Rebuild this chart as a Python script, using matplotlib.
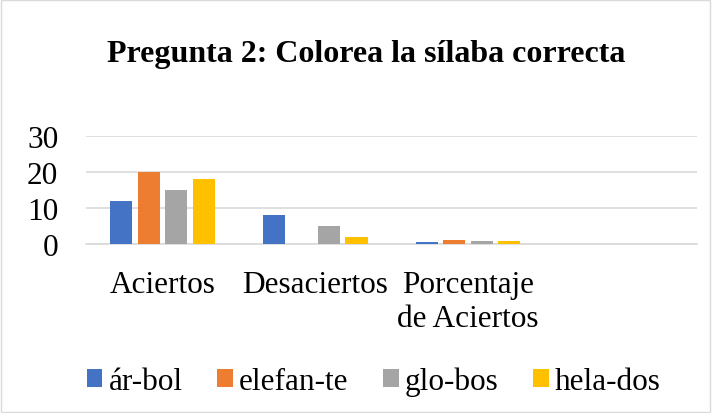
import numpy as np
import matplotlib
matplotlib.use('Agg')
import matplotlib.pyplot as plt
from matplotlib.patches import Rectangle

# Datos
categorias = ['Aciertos', 'Desaciertos', 'Porcentaje\nde Aciertos', '']
series = ['ár-bol', 'elefan-te', 'glo-bos', 'hela-dos']
arbol = [12, 8, 0.6, 0]
elefante = [20, 0, 1.0, 0]
globos = [15, 5, 0.75, 0]
helados = [18, 2, 0.9, 0]

COLORS = ['#4472C4', '#ED7D31', '#A5A5A5', '#FFC000']
FONT = 'Liberation Serif'
FS = 22.5
plt.rcParams['font.family'] = [FONT, 'DejaVu Serif']

fig = plt.figure(figsize=(7.12, 4.14), dpi=100)
fig.patches.append(Rectangle((0.002, 0.002), 0.995, 0.995, transform=fig.transFigure,
                             fill=False, edgecolor='#d9d9d9', linewidth=1))

ax = fig.add_axes([0.121, 0.408, 0.858, 0.261])
x = np.arange(len(categorias))
width = 0.145
step = 0.18
for i, (name, vals) in enumerate(zip(series, [arbol, elefante, globos, helados])):
    ax.bar(x + (i - 1.5) * step, vals, width=width, color=COLORS[i], label=name, zorder=3)

ax.set_xlim(-0.5, len(categorias) - 0.5)
ax.set_ylim(0, 30)
ax.set_yticks([0, 10, 20, 30])
ax.set_xticks(x)
ax.set_xticklabels(categorias, fontsize=FS, linespacing=1.25)
ax.tick_params(axis='y', labelsize=FS, length=0, pad=20)
ax.tick_params(axis='x', length=0, pad=18.5)
ax.grid(axis='y', color='#d9d9d9', linewidth=1.2, zorder=0)
for s in ['top', 'right', 'left']:
    ax.spines[s].set_visible(False)
ax.spines['bottom'].set_color('#d9d9d9')
ax.spines['bottom'].set_linewidth(1.2)

fig.text(0.515, 0.868, 'Pregunta 2: Colorea la sílaba correcta',
         ha='center', va='center', fontsize=23, fontweight='bold')

fig.legend(loc='center', bbox_to_anchor=(0.525, 0.077), ncol=4, frameon=False,
           fontsize=FS, handlelength=0.5, handleheight=0.5, handletextpad=0.2,
           columnspacing=1.1, borderpad=0)

fig.savefig('out.png', dpi=100)
